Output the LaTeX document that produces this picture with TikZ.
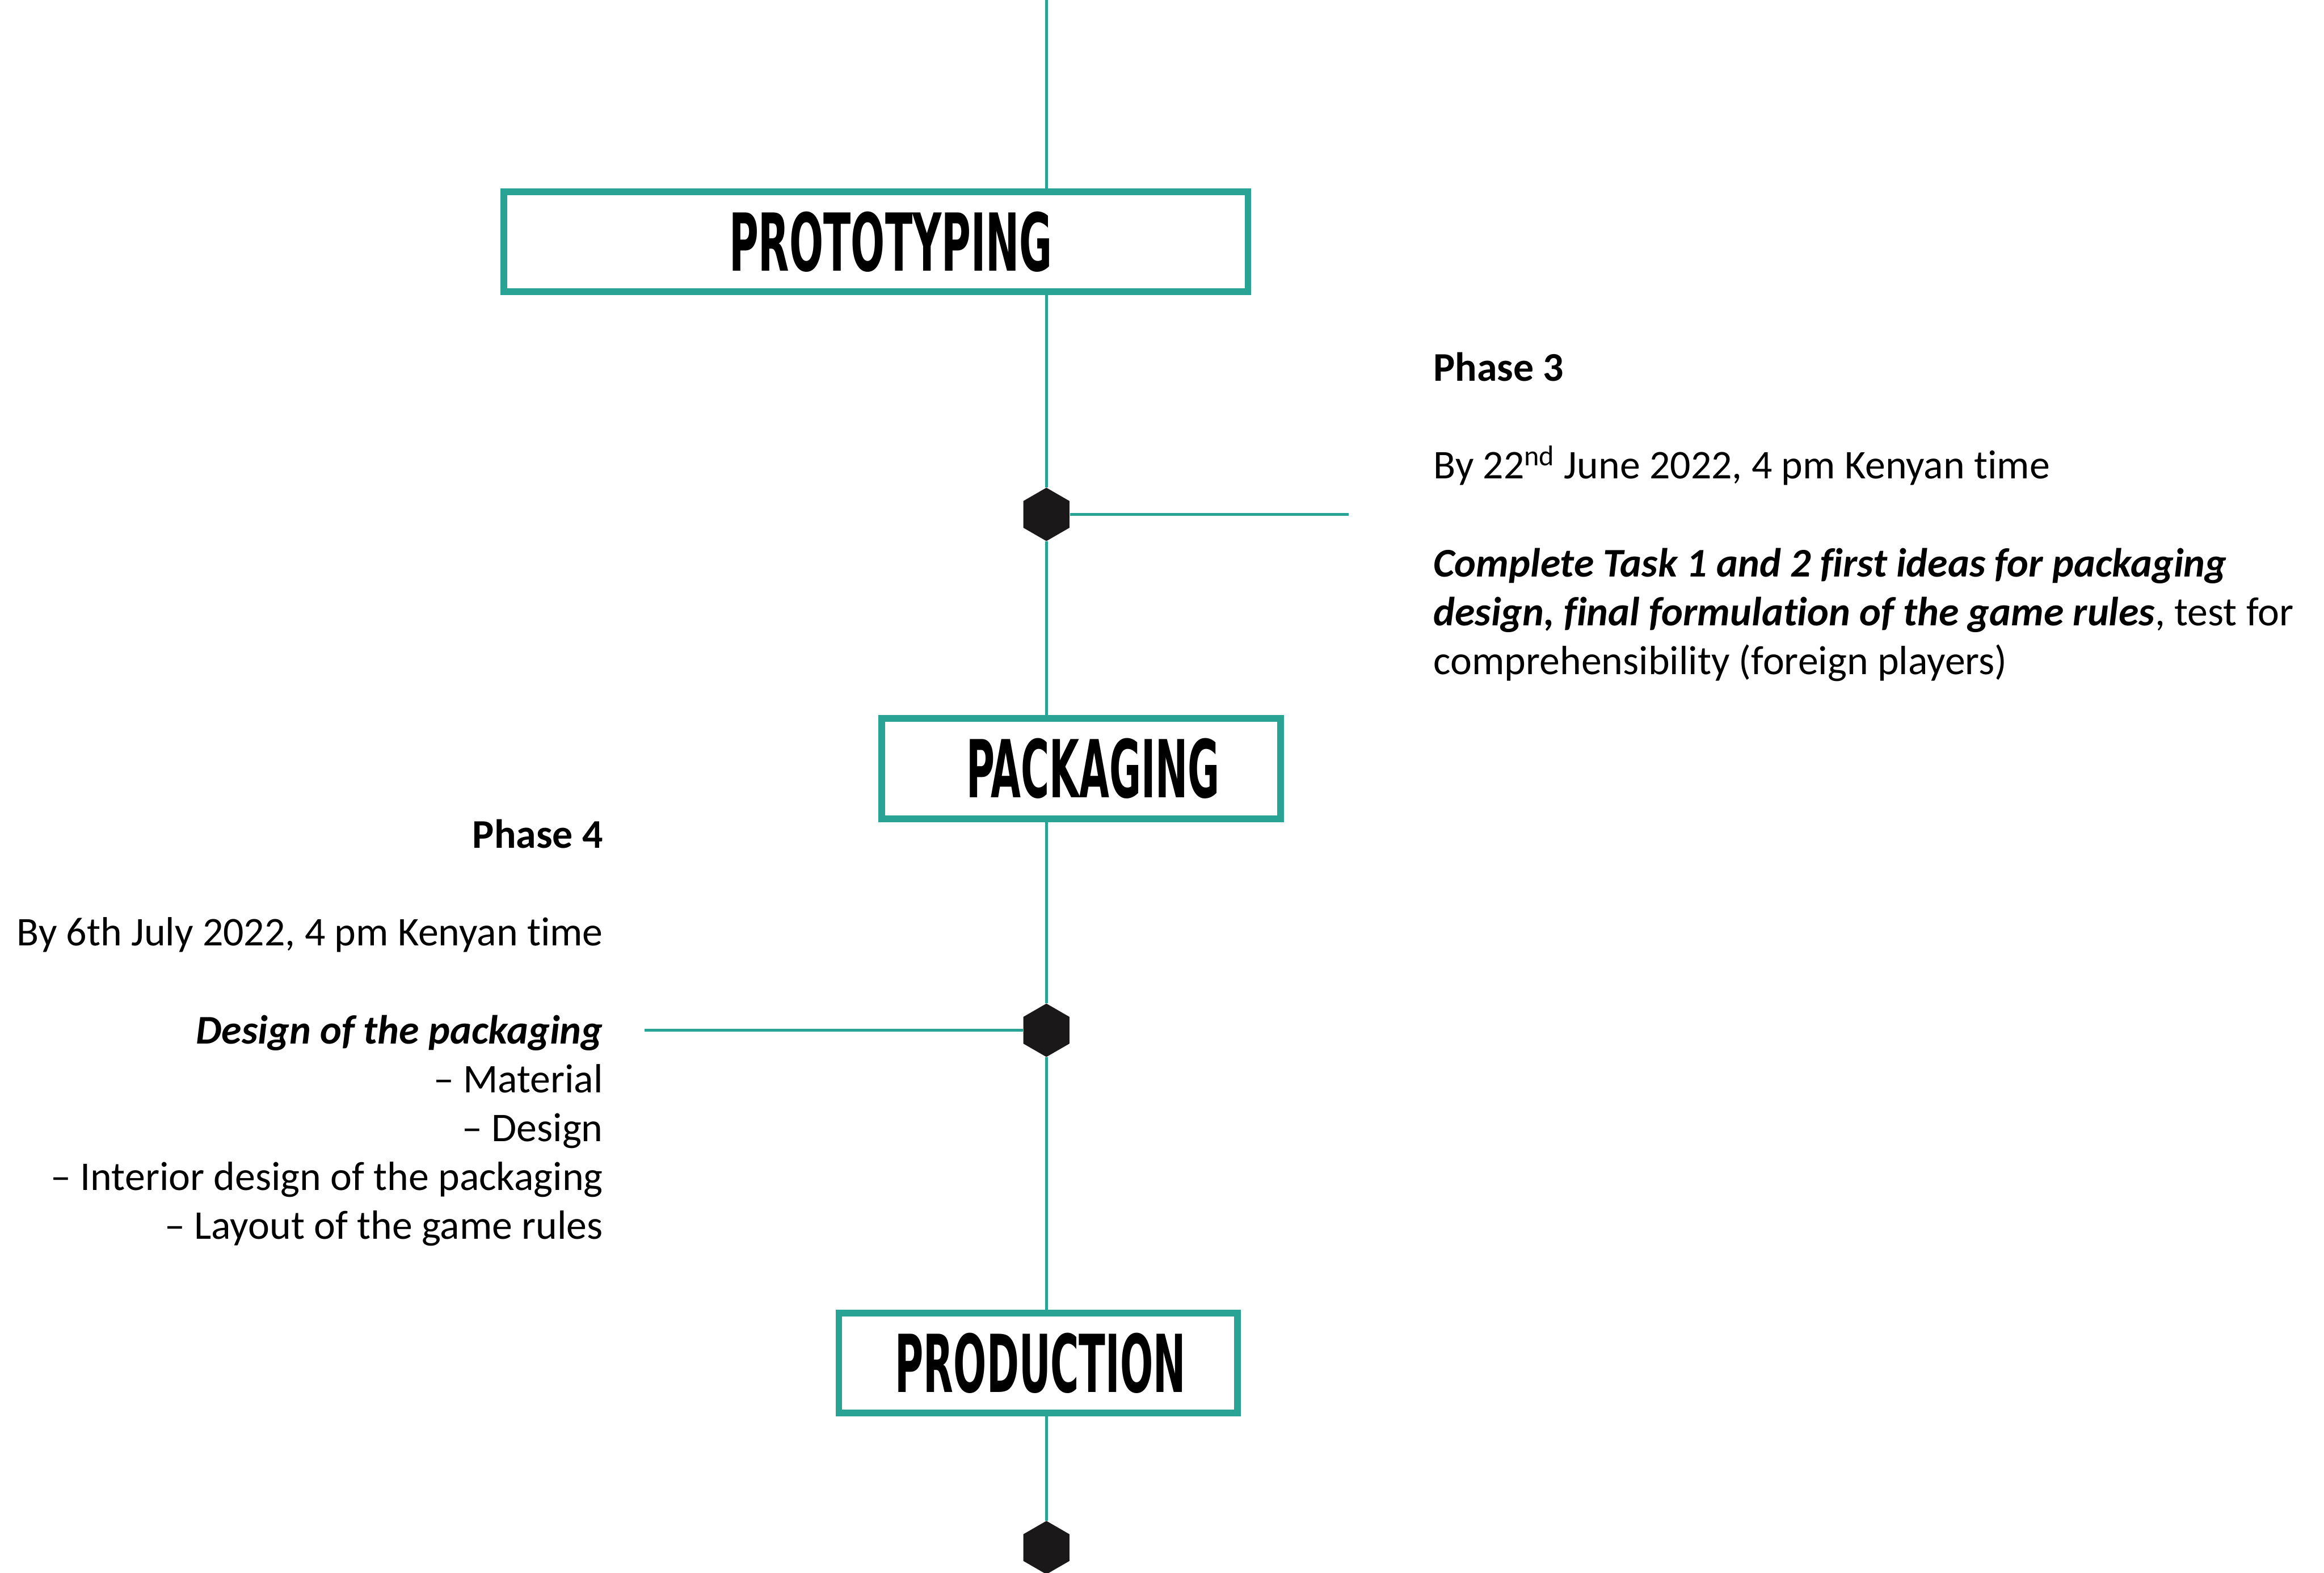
\documentclass[tikz,border=0pt]{standalone}
\usepackage{fontspec}
\usepackage{graphicx}
\setmainfont{Carlito}[Ligatures={NoCommon}]
\newfontfamily\headfont{DejaVu Sans Condensed}
\usetikzlibrary{shapes.geometric}
\definecolor{teal1}{RGB}{41,163,148}
\definecolor{hexcol}{RGB}{26,24,24}
\begin{document}
\begin{tikzpicture}[x=1pt,y=-1pt,
  phasebox/.style={draw=teal1,line width=4.5pt,fill=white,inner sep=0pt,minimum height=67.5pt},
  hexnode/.style={regular polygon,regular polygon sides=6,shape border rotate=30,fill=hexcol,draw=none,minimum size=36pt,inner sep=0pt},
  conn/.style={draw=teal1,line width=2pt},
  txt/.style={inner sep=0pt,font=\fontsize{27.5}{33}\selectfont},
  txtl/.style={txt,anchor=base west},
  txtr/.style={txt,anchor=base east}]
\useasboundingbox (0,0) rectangle (1568,1061);
\fill[white] (0,0) rectangle (1568,1061);
% boxes
\node[phasebox,minimum width=502pt] (b1) at (591,163) {\hspace*{20pt}\resizebox{218pt}{40pt}{\headfont\bfseries PROTOTYPING}};
\node[phasebox,minimum width=269pt] (b2) at (729.5,518.5) {\hspace*{16pt}\resizebox{171pt}{40pt}{\headfont\bfseries PACKAGING}};
\node[phasebox,minimum width=269pt] (b3) at (700.5,919.5) {\hspace*{3pt}\resizebox{196pt}{40pt}{\headfont\bfseries PRODUCTION}};
% hexagons
\node[hexnode] (h1) at (706,347) {};
\node[hexnode] (h2) at (706,695) {};
\node[hexnode] (h3) at (706,1044) {};
\coordinate (top) at (706,0);
\coordinate (e1) at (910,347);
\coordinate (e2) at (435,695);
% connectors
\draw[conn] (top) -- (top |- b1.north);
\draw[conn] (h1 |- b1.south) -- (h1);
\draw[conn] (h1) -- (h1 |- b2.north);
\draw[conn] (h2 |- b2.south) -- (h2);
\draw[conn] (h2) -- (h2 |- b3.north);
\draw[conn] (h3 |- b3.south) -- (h3);
\draw[conn] (h1) -- (e1);
\draw[conn] (e2) -- (h2);
% phase 3 text
\node[txtl] (p3t) at (967,257) {\bfseries Phase 3};
\node[txtl] (p3d) at (967,323) {By 22\textsuperscript{nd} June 2022, 4 pm Kenyan time};
\node[txtl] (p3a) at (967,389) {\bfseries\itshape Complete Task 1 and 2 first ideas for packaging};
\node[txtl] (p3b) at (967,422) {{\bfseries\itshape design, final formulation of the game rules}, test for};
\node[txtl] (p3c) at (967,455) {comprehensibility (foreign players)};
% phase 4 text
\node[txtr] (p4t) at (407,572) {\bfseries Phase 4};
\node[txtr] (p4d) at (407,638) {By 6th July 2022, 4 pm Kenyan time};
\node[txtr] (p4a) at (407,704) {\bfseries\itshape Design of the packaging};
\node[txtr] (p4b) at (407,737) {\textendash{} Material};
\node[txtr] (p4c) at (407,770) {\textendash{} Design};
\node[txtr] (p4d2) at (407,803) {\textendash{} Interior design of the packaging};
\node[txtr] (p4e) at (407,836) {\textendash{} Layout of the game rules};
\end{tikzpicture}
\end{document}
